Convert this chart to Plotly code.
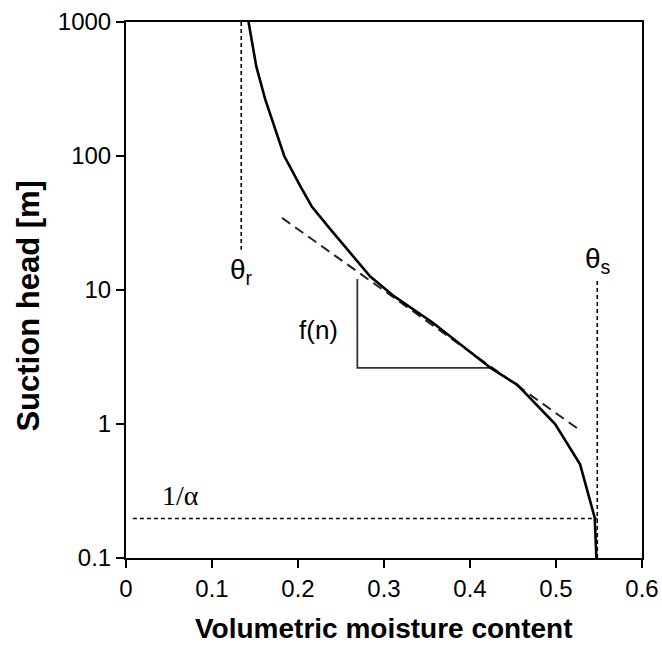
import plotly.graph_objects as go

# Retention curve
theta = [0.1425, 0.1515, 0.162, 0.175, 0.184, 0.203, 0.216, 0.238, 0.259, 0.284,
         0.312, 0.356, 0.424, 0.455, 0.499, 0.528, 0.545, 0.547]
head = [1000, 466, 263, 149, 100, 59, 42, 28.2, 19.4, 12.6,
        8.96, 5.75, 2.62, 1.96, 1.0, 0.5, 0.2, 0.1]

# Tangent (dashed) line
tan_theta = [0.1815, 0.527]
tan_head = [34.5, 0.906]

# Slope triangle
tri_theta = [0.269, 0.269, 0.426]
tri_head = [12.1, 2.62, 2.62]

# Reference values
theta_r = 0.134
theta_r_top = 1000
theta_r_bottom = 20
theta_s = 0.548
theta_s_top = 12
inv_alpha = 0.197
inv_alpha_x0 = 0.008

x_ticks = [0, 0.1, 0.2, 0.3, 0.4, 0.5, 0.6]
x_ticktext = ["0", "0.1", "0.2", "0.3", "0.4", "0.5", "0.6"]
y_ticks = [0.1, 1, 10, 100, 1000]
y_ticktext = ["0.1", "1", "10", "100", "1000"]

FONT = "Arial, Liberation Sans, Helvetica, sans-serif"

fig = go.Figure()

# theta_r dotted
fig.add_trace(go.Scatter(x=[theta_r, theta_r], y=[theta_r_top, theta_r_bottom], mode="lines",
                         line=dict(color="black", width=1.6, dash="4px,3px"), showlegend=False))
# theta_s dotted
fig.add_trace(go.Scatter(x=[theta_s, theta_s], y=[0.1, theta_s_top], mode="lines",
                         line=dict(color="black", width=1.6, dash="4px,3px"), showlegend=False))
# 1/alpha dotted
fig.add_trace(go.Scatter(x=[inv_alpha_x0, theta_s], y=[inv_alpha, inv_alpha], mode="lines",
                         line=dict(color="black", width=1.6, dash="4px,3px"), showlegend=False))
# triangle
fig.add_trace(go.Scatter(x=tri_theta, y=tri_head, mode="lines",
                         line=dict(color="#333333", width=1.8), showlegend=False))
# tangent dashed
fig.add_trace(go.Scatter(x=tan_theta, y=tan_head, mode="lines",
                         line=dict(color="#222222", width=2, dash="10px,6px"), showlegend=False))
# main curve
fig.add_trace(go.Scatter(x=theta, y=head, mode="lines",
                         line=dict(color="black", width=2.6), showlegend=False))

fig.add_annotation(x=0.1345, y=1.14, text="θ<sub>r</sub>", showarrow=False,
                   font=dict(family=FONT, size=28, color="black"))
fig.add_annotation(x=0.549, y=1.22, text="θ<sub>s</sub>", showarrow=False,
                   font=dict(family=FONT, size=28, color="black"))
fig.add_annotation(x=0.224, y=0.704, text="f(n)", showarrow=False,
                   font=dict(family=FONT, size=26, color="black"))
fig.add_annotation(x=0.063, y=-0.535, text="1/α", showarrow=False,
                   font=dict(family="Liberation Serif, Times New Roman, serif", size=28, color="black"))

# axis titles as annotations
fig.add_annotation(xref="paper", yref="paper", x=0.5, y=-0.132, yanchor="middle",
                   text="<b>Volumetric moisture content</b>", showarrow=False,
                   font=dict(family=FONT, size=28, color="black"))
fig.add_annotation(xref="paper", yref="paper", x=-0.189, xanchor="center", y=0.47, yanchor="middle",
                   text="<b>Suction head [m]</b>", showarrow=False, textangle=-90,
                   font=dict(family=FONT, size=31, color="black"))

fig.update_xaxes(range=[0, 0.6], tickvals=x_ticks, ticktext=x_ticktext,
                 showline=True, linecolor="black", linewidth=2, mirror=True,
                 ticks="outside", ticklen=8, tickwidth=2, tickcolor="black",
                 showgrid=False, zeroline=False, automargin=False,
                 tickfont=dict(family=FONT, size=24, color="black"))
fig.update_yaxes(type="log", range=[-1, 3], tickvals=y_ticks, ticktext=y_ticktext,
                 showline=True, linecolor="black", linewidth=2, mirror=True,
                 ticks="outside", ticklen=8, tickwidth=2, tickcolor="black",
                 showgrid=False, zeroline=False, automargin=False,
                 tickfont=dict(family=FONT, size=24, color="black"))

fig.update_layout(width=662, height=646,
                  margin=dict(l=126, r=20, t=22, b=88),
                  plot_bgcolor="white", paper_bgcolor="white")

fig.write_html("out.html", config={"displayModeBar": False},
               post_script="document.body.style.margin='0px';document.body.style.overflow='hidden';")
